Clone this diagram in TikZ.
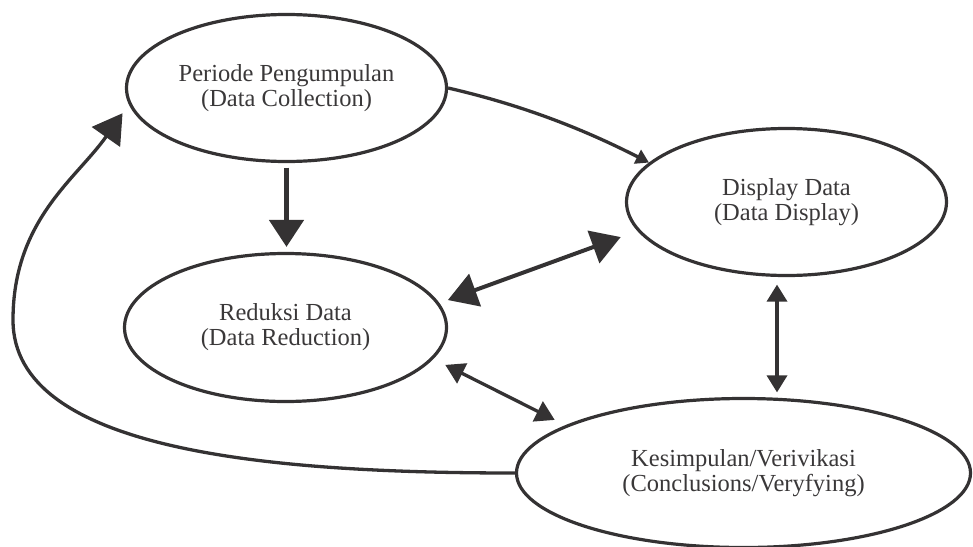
\documentclass[tikz,border=0pt]{standalone}
\usepackage{fontspec}
\setmainfont{Liberation Serif}
\usetikzlibrary{shapes.geometric,arrows.meta,calc}
\definecolor{lc}{RGB}{52,50,51}
\definecolor{tc}{RGB}{58,56,57}
\tikzset{
  bigtip/.tip={Triangle[length=29pt,width=34pt]},
  downtip/.tip={Triangle[length=27pt,width=34pt]},
  midtip/.tip={Triangle[length=19pt,width=22pt]},
  vtip/.tip={Triangle[length=17pt,width=20pt]},
  smalltip/.tip={Triangle[length=13pt,width=15pt]}
}
\begin{document}
\begin{tikzpicture}[x=1pt,y=1pt,
  ell/.style={draw=lc, line width=3.2pt, ellipse, inner sep=0pt, align=center,
    font=\fontsize{24.5}{25}\selectfont, text=tc},
  conn/.style={draw=lc, line width=3.3pt}
]
\useasboundingbox (0,0) rectangle (973,-546);
\node[ell, minimum width=320pt, minimum height=147pt] (A) at (286.5,-88) {Periode Pengumpulan\\(Data Collection)};
\node[ell, minimum width=320pt, minimum height=147pt] (B) at (786.5,-202) {Display Data\\(Data Display)};
\node[ell, minimum width=322pt, minimum height=148pt] (C) at (285.5,-327.5) {Reduksi Data\\(Data Reduction)};
\node[ell, minimum width=454pt, minimum height=149pt] (D) at (743.5,-473) {Kesimpulan/Verivikasi\\(Conclusions/Veryfying)};
\coordinate (loopL) at (13,-320);
\coordinate (tipA) at ([shift={(-11,-1)}]A.189);
% A -> C
\draw[conn, line width=5pt, -{downtip}, shorten <=4.5pt, shorten >=5pt] (A.south) -- (A.south |- C.north);
% A -> B
\draw[conn, -{smalltip}] (A.east) to[out=-13, in=153, looseness=0.9] (B.164);
% C <-> B
\draw[conn, line width=4pt, {bigtip}-{bigtip}, shorten <=9pt, shorten >=17.8pt] (C.9.6) -- (B.191.2);
% C <-> D
\draw[conn, {midtip}-{midtip}, shorten <=13.3pt, shorten >=12pt] (C.-12.2) -- (D.165.3);
% B <-> D
\draw[conn, line width=3.5pt, {vtip}-{vtip}, shorten <=7.5pt, shorten >=4.5pt] ([xshift=-9.5pt]B.south) -- ([xshift=33.5pt]D.north);
% feedback D -> A
\draw[conn, -{bigtip}] (D.west) .. controls ($(D.west)+(-250,0)$) and ($(loopL)+(0,-130)$) .. (loopL)
  .. controls ($(loopL)+(0,100)$) and ($(tipA)+(-46,-65.5)$) .. (tipA);
\end{tikzpicture}
\end{document}
